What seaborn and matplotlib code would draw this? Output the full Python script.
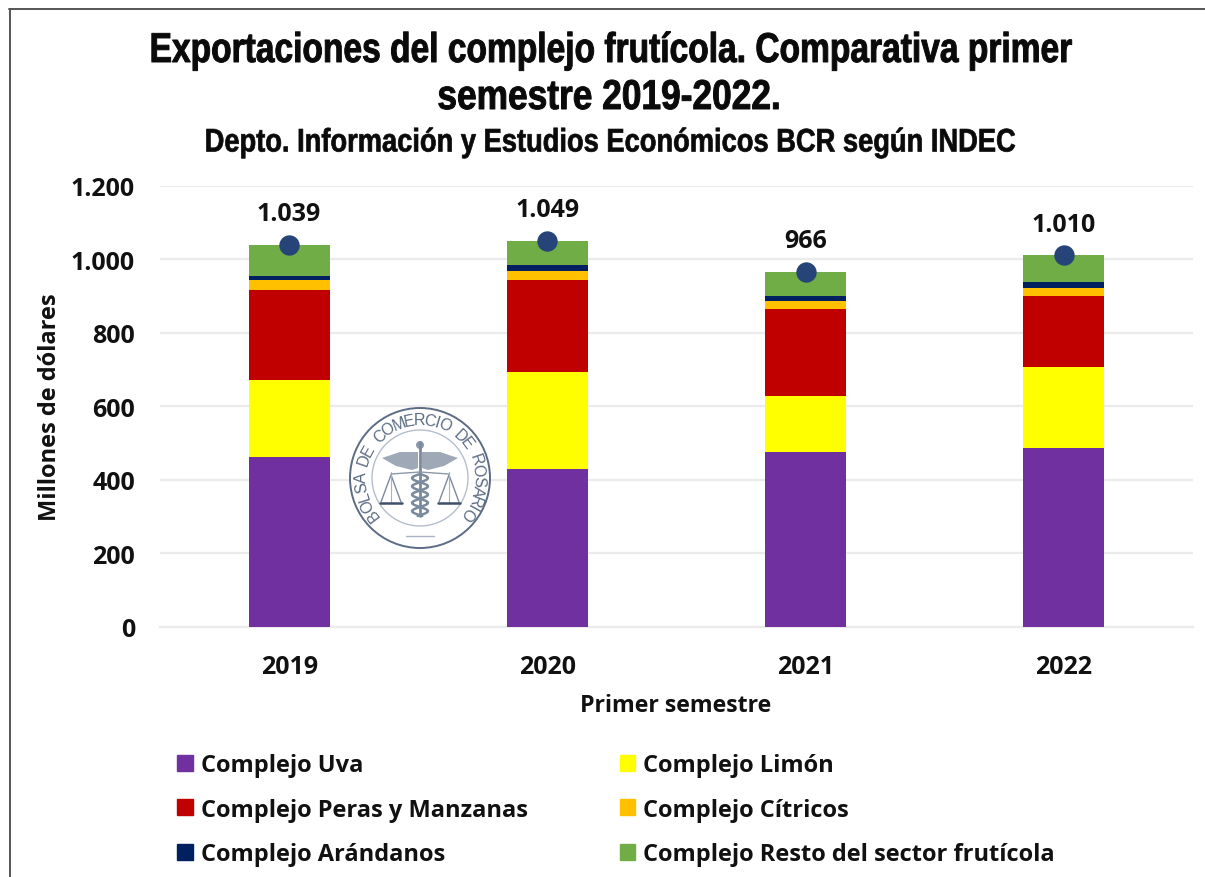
import numpy as np
import pandas as pd
import matplotlib
matplotlib.use("Agg")
import matplotlib.pyplot as plt
from matplotlib.patches import Circle, Rectangle, Polygon
from matplotlib.lines import Line2D
from matplotlib.patheffects import AbstractPathEffect
from matplotlib.transforms import Affine2D
from matplotlib.textpath import TextToPath
from matplotlib.font_manager import FontProperties
import seaborn as sns

years = ["2019", "2020", "2021", "2022"]
uva = [462, 429, 475, 486]
limon = [209, 264, 153, 221]
peras = [244, 250, 237, 193]
citricos = [28, 25, 22, 21]
arandanos = [12, 17, 12, 16]
resto = [84, 64, 67, 73]
totals = [1039, 1049, 966, 1010]
total_labels = ["1.039", "1.049", "966", "1.010"]
y_ticks = [0, 200, 400, 600, 800, 1000, 1200]
y_tick_labels = ["0", "200", "400", "600", "800", "1.000", "1.200"]
series_names = ["Complejo Uva", "Complejo Limón", "Complejo Peras y Manzanas",
                "Complejo Cítricos", "Complejo Arándanos",
                "Complejo Resto del sector frutícola"]
series_values = [uva, limon, peras, citricos, arandanos, resto]
series_colors = ["#7030A0", "#FFFF00", "#C00000", "#FFC000", "#002060", "#70AD47"]


class Squeeze(AbstractPathEffect):
    """Narrow a text horizontally about a pixel column, with a slight stroke."""

    def __init__(self, sx, cx_px, stroke=0.7):
        super().__init__()
        self.sx, self.cx_px, self.stroke = sx, cx_px, stroke

    def draw_path(self, renderer, gc, tpath, affine, rgbFace=None):
        aff = affine + Affine2D().translate(-self.cx_px, 0).scale(self.sx, 1).translate(self.cx_px, 0)
        gc0 = renderer.new_gc()
        gc0.copy_properties(gc)
        gc0.set_linewidth(self.stroke)
        gc0.set_foreground(rgbFace)
        renderer.draw_path(gc0, tpath, aff, rgbFace)
        gc0.restore()


W, H = 1205, 878
sns.set_theme(style="white")
plt.rcParams["font.family"] = ["Open Sans", "DejaVu Sans"]
fig = plt.figure(figsize=(W / 100, H / 100), dpi=100, facecolor="white")
ax = fig.add_axes([160 / W, 1 - 628 / H, (1193 - 160) / W, (628 - 186.5) / H])

bottom = np.zeros(len(years))
for name, vals, col in zip(series_names, series_values, series_colors):
    df = pd.DataFrame({"year": years, "value": vals})
    sns.barplot(data=df, x="year", y="value", color=col, saturation=1, width=0.314,
                bottom=bottom, ax=ax, errorbar=None, linewidth=0, zorder=3)
    bottom = bottom + np.array(vals)

df_tot = pd.DataFrame({"year": years, "total": totals})
sns.scatterplot(data=df_tot, x="year", y="total", color="#264478", s=215, linewidth=0,
                ax=ax, zorder=5, legend=False)
for i, (t, lab) in enumerate(zip(totals, total_labels)):
    ax.annotate(lab, (i, t), xytext=(0, 22.5), textcoords="offset points", ha="center",
                va="center", fontsize=18, fontweight="bold", color="#111111", zorder=6)

ax.set_xlim(-0.5, 3.5)
ax.set_ylim(0, 1200)
ax.set_yticks(y_ticks, y_tick_labels)
ax.yaxis.grid(True, color="#EBEBEB", linewidth=1.6, zorder=0)
ax.set_axisbelow(True)
for s in ["top", "right", "left"]:
    ax.spines[s].set_visible(False)
ax.spines["bottom"].set_color("#EBEBEB")
ax.spines["bottom"].set_linewidth(1.6)
ax.tick_params(axis="both", length=0, labelsize=18, labelcolor="#111111")
ax.tick_params(axis="x", pad=19.5)
ax.tick_params(axis="y", pad=18)
for lab in ax.get_xticklabels() + ax.get_yticklabels():
    lab.set_fontweight("bold")
ax.set_xlabel("")
ax.set_ylabel("")
fig.text(50 / W, 1 - 407 / H, "Millones de dólares", rotation=90, ha="center", va="center",
         fontsize=17, fontweight="bold", color="#111111")
fig.text(676 / W, 1 - 706 / H, "Primer semestre", ha="center", va="center",
         fontsize=16.7, fontweight="bold", color="#111111")

title_font = ["Liberation Sans", "DejaVu Sans"]
t1 = fig.text(611 / W, 1 - 52 / H, "Exportaciones del complejo frutícola. Comparativa primer",
              ha="center", va="center", fontsize=30, fontweight="bold", family=title_font, color="#0A0A0A")
t1.set_path_effects([Squeeze(0.805, 611)])
t2 = fig.text(609 / W, 1 - 99 / H, "semestre 2019-2022.", ha="center", va="center",
              fontsize=30, fontweight="bold", family=title_font, color="#0A0A0A")
t2.set_path_effects([Squeeze(0.847, 609)])
t3 = fig.text(610 / W, 1 - 144 / H, "Depto. Información y Estudios Económicos BCR según INDEC",
              ha="center", va="center", fontsize=23.5, fontweight="bold", family=title_font, color="#0A0A0A")
t3.set_path_effects([Squeeze(0.836, 610, 0.5)])

# legend
handles = [Rectangle((0, 0), 1, 1, color=c) for c in series_colors]
ncol_order = [0, 2, 4, 1, 3, 5]
leg = fig.legend([handles[i] for i in ncol_order], [series_names[i] for i in ncol_order],
                 ncol=2, loc="upper left", bbox_to_anchor=(170 / W, 1 - 747 / H), frameon=False,
                 prop={"weight": "bold", "size": 17}, handlelength=0.66, handleheight=0.66,
                 handletextpad=0.34, columnspacing=3.9, labelspacing=0.87, borderaxespad=0,
                 borderpad=0.3)
for t in leg.get_texts():
    t.set_color("#111111")

# seal of the Bolsa de Comercio de Rosario
bg = fig.add_axes([0, 0, 1, 1], zorder=10)
bg.set_xlim(0, W)
bg.set_ylim(H, 0)
bg.axis("off")
bg.patch.set_alpha(0)
sc = "#5C6C84"
soft = "#8D99AB"
cx, cy = 420, 479
bg.add_patch(Circle((cx, cy), 70, fc="white", ec=sc, lw=1.4))
bg.add_patch(Circle((cx, cy), 48, fc="none", ec="#B5BECB", lw=1.0))
seal = "BOLSA DE COMERCIO DE ROSARIO"
seal_fp = FontProperties(family="Liberation Sans", size=11.5)
ttp = TextToPath()
wid = np.array([ttp.get_text_width_height_descent(c if c != " " else "n", seal_fp, False)[0] for c in seal])
edges = np.concatenate([[0], np.cumsum(wid)])
mids = (edges[:-1] + edges[1:]) / 2 / edges[-1]
angs = 222 - mids * (222 + 42)
for ch, a in zip(seal, angs):
    r = 58.5
    x = cx + r * np.cos(np.radians(a))
    y = cy - r * np.sin(np.radians(a))
    bg.text(x, y, ch, rotation=a - 90, ha="center", va="center", color=sc,
            rotation_mode="anchor", fontproperties=seal_fp)
# wings, staff, snakes, scales
bg.add_line(Line2D([cx, cx], [cy - 36, cy + 38], color="#7C8A9E", lw=2.0))
bg.add_patch(Circle((cx, cy - 33), 4, fc="#8D99AB", ec="none"))
for sgn in (-1, 1):
    wing = [(cx + sgn * 2, cy - 26), (cx + sgn * 20, cy - 26), (cx + sgn * 38, cy - 20),
            (cx + sgn * 24, cy - 12), (cx + sgn * 8, cy - 8), (cx + sgn * 2, cy - 10)]
    bg.add_patch(Polygon(wing, closed=True, fc=soft, ec="none", alpha=0.85))
    sx = cx + sgn * 29
    bg.add_line(Line2D([sx - 10, sx, sx + 10], [cy + 24, cy - 3, cy + 24], color="#7C8A9E", lw=1.0))
    bg.add_line(Line2D([sx, sx], [cy - 6, cy + 24], color="#A9B3C2", lw=0.8))
    bg.add_line(Line2D([sx - 11, sx + 11], [cy + 25, cy + 25], color="#3F5069", lw=1.8))
    bg.add_line(Line2D([sx, cx], [cy - 4, cy - 6], color="#8D99AB", lw=1.0))
ts = np.arange(0, 1.01, 0.02)
bg.add_line(Line2D(cx + 8 * np.sin(ts * 16), cy - 4 + 42 * ts, color="#7C8A9E", lw=1.8))
bg.add_line(Line2D(cx - 8 * np.sin(ts * 16), cy - 4 + 42 * ts, color="#7C8A9E", lw=1.8))
bg.add_line(Line2D([cx - 14, cx + 14], [cy + 58, cy + 58], color="#A9B3C2", lw=1.0))

# outer frame
for xs, ys in [([9, W], [10, 10]), ([9.5, 9.5], [10, H])]:
    bg.add_line(Line2D(xs, ys, color="#555555", lw=1.4))

fig.savefig("out.png", dpi=100, facecolor="white")
